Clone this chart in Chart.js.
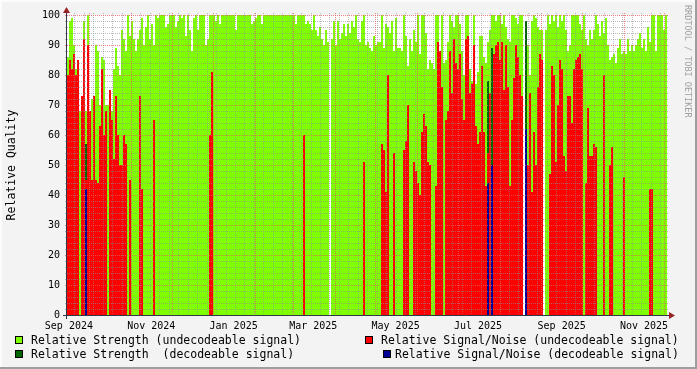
<!DOCTYPE html>
<html>
<head>
<meta charset="utf-8">
<script src="https://cdn.jsdelivr.net/npm/chart.js@4.4.1/dist/chart.umd.min.js"></script>
<style>
  html, body { margin: 0; padding: 0; background: #f3f3f3; }
  canvas { display: block; }
</style>
</head>
<body>
<canvas id="qualityChart" width="697" height="369"></canvas>
<script>
// one bar for every 2 px of the plot, 300 bars from mid Sep 2024 to early Dec 2025
const DAY = 86400000;
const binDays = 2 / 1.35;
const startTime = Date.UTC(2024, 8, 14, 14);
const binCount = 300;
const endTime = startTime + binCount * binDays * DAY;

// Relative Strength (undecodeable signal)
const strengthBad = [
  86, 98, 99, 90, 82, 82, 68, 70, 98, 68, 100, 68, 72, 68, 90, 88, 70, 86, 85, 70,
  70, 70, 68, 82, 89, 83, 80, 95, 92, 88, 100, 93, 98, 92, 88, 92, 95, 99, 90, 96,
  100, 92, 97, 90, 100, 99, 100, 100, 100, 96, 97, 100, 100, 100, 96, 98, 100, 99, 100, 93,
  100, 95, 88, 99, 100, 95, 100, 100, 100, 90, 92, 100, 100, 100, 98, 100, 97, 100, 100, 100,
  100, 100, 100, 100, 95, 100, 100, 100, 100, 100, 100, 100, 97, 98, 99, 100, 100, 97, 100, 100,
  100, 100, 100, 100, 100, 100, 100, 100, 100, 100, 100, 100, 100, 100, 97, 100, 100, 100, 100, 97,
  98, 97, 95, 100, 95, 93, 96, 92, 90, 95, 91, 0, 92, 98, 90, 98, 92, 94, 97, 93,
  97, 94, 98, 96, 100, 92, 91, 98, 100, 90, 91, 89, 88, 93, 90, 91, 91, 100, 89, 97,
  96, 94, 98, 88, 99, 89, 89, 88, 100, 93, 83, 92, 88, 95, 91, 100, 87, 100, 100, 94,
  82, 85, 84, 82, 100, 100, 83, 100, 84, 85, 91, 100, 98, 96, 100, 100, 97, 88, 80, 100,
  100, 82, 78, 100, 77, 81, 93, 93, 86, 84, 91, 95, 100, 100, 98, 100, 100, 97, 100, 96,
  92, 91, 100, 100, 99, 97, 100, 100, 0, 0, 90, 80, 98, 100, 99, 96, 95, 95, 0, 95,
  100, 97, 100, 98, 100, 96, 100, 98, 100, 95, 88, 90, 100, 100, 100, 100, 97, 95, 100, 92,
  90, 95, 92, 95, 100, 97, 93, 98, 94, 99, 90, 85, 86, 87, 84, 89, 92, 87, 88, 87,
  92, 88, 90, 88, 90, 92, 94, 89, 92, 88, 96, 91, 100, 100, 88, 100, 100, 100, 95, 100
];

// Relative Signal/Noise (undecodeable signal)
const snrBad = [
  80, 85, 82, 87, 80, 85, 0, 73, 92, 45, 90, 68, 45, 73, 45, 44, 63, 82, 60, 68,
  0, 75, 65, 52, 73, 60, 50, 50, 60, 57, 0, 45, 0, 0, 0, 0, 73, 42, 0, 0,
  0, 0, 0, 65, 0, 0, 0, 0, 0, 0, 0, 0, 0, 0, 0, 0, 0, 0, 0, 0,
  0, 0, 0, 0, 0, 0, 0, 0, 0, 0, 0, 60, 81, 0, 0, 0, 0, 0, 0, 0,
  0, 0, 0, 0, 0, 0, 0, 0, 0, 0, 0, 0, 0, 0, 0, 0, 0, 0, 0, 0,
  0, 0, 0, 0, 0, 0, 0, 0, 0, 0, 0, 0, 0, 0, 0, 0, 0, 0, 60, 0,
  0, 0, 0, 0, 0, 0, 0, 0, 0, 0, 0, 0, 0, 0, 0, 0, 0, 0, 0, 0,
  0, 0, 0, 0, 0, 0, 0, 0, 51, 0, 0, 0, 0, 0, 0, 0, 0, 57, 55, 41,
  80, 0, 0, 54, 0, 0, 0, 0, 55, 58, 70, 0, 0, 51, 48, 44, 40, 61, 67, 63,
  51, 50, 0, 0, 43, 91, 88, 76, 0, 65, 68, 88, 74, 92, 84, 82, 87, 72, 65, 92,
  93, 74, 77, 90, 63, 57, 61, 83, 61, 43, 54, 74, 50, 87, 90, 91, 85, 91, 75, 90,
  76, 43, 65, 79, 90, 86, 80, 73, 0, 0, 50, 74, 41, 61, 50, 76, 87, 85, 0, 0,
  0, 47, 83, 80, 51, 70, 85, 82, 53, 48, 73, 73, 64, 82, 85, 86, 87, 82, 0, 44,
  69, 53, 53, 57, 56, 0, 0, 0, 80, 0, 0, 50, 56, 0, 0, 0, 0, 0, 46, 0,
  0, 0, 0, 0, 0, 0, 0, 0, 0, 0, 0, 42, 42, 0, 0, 0, 0, 0, 0, 0
];

// decodeable signal only shows up in a few bars
const goodBins = [9, 210, 212, 229];
const strengthGood = [57, 78, 89, 98];
const snrGood = [42, 44, 50, 62];

const xLabels = ['Sep 2024', 'Nov 2024', 'Jan 2025', 'Mar 2025', 'May 2025', 'Jul 2025', 'Sep 2025', 'Nov 2025'];
const monthNames = ['Jan', 'Feb', 'Mar', 'Apr', 'May', 'Jun', 'Jul', 'Aug', 'Sep', 'Oct', 'Nov', 'Dec'];

// rrdtool centres the month label in the middle of the month
const labelTime = lbl => {
  const [m, y] = lbl.split(' ');
  return Date.UTC(+y, monthNames.indexOf(m), 16);
};
const xLabelTimes = xLabels.map(labelTime);

const binTime = i => startTime + (i + 0.5) * binDays * DAY;
const toPoints = arr => arr.map((v, i) => ({ x: binTime(i), y: v }));
const toSparse = vals => goodBins.map((b, k) => ({ x: binTime(b), y: vals[k] }));

const legendItems = [
  { text: 'Relative Strength (undecodeable signal)', color: '#80ff00', bx: 15, by: 336, tx: 31, ty: 341 },
  { text: 'Relative Signal/Noise (undecodeable signal)', color: '#ff0000', bx: 365, by: 336, tx: 381, ty: 341 },
  { text: 'Relative Strength  (decodeable signal)', color: '#006600', bx: 15, by: 350, tx: 31, ty: 355 },
  { text: 'Relative Signal/Noise (decodeable signal)', color: '#000099', bx: 383, by: 350, tx: 395, ty: 355 }
];

const MONO = "'DejaVu Sans Mono', monospace";
Chart.defaults.font.family = MONO;

const line = (ctx, x1, y1, x2, y2) => {
  ctx.beginPath();
  ctx.moveTo(x1, y1);
  ctx.lineTo(x2, y2);
  ctx.stroke();
};

const rrdLook = {
  id: 'rrdLook',
  beforeDraw(chart) {
    const { ctx, chartArea: a } = chart;
    ctx.save();
    ctx.fillStyle = '#f3f3f3';
    ctx.fillRect(0, 0, chart.width, chart.height);
    ctx.fillStyle = '#ffffff';
    ctx.fillRect(a.left, a.top, a.right - a.left, a.bottom - a.top);
    ctx.restore();
  },
  afterDatasetsDraw(chart) {
    const { ctx, chartArea: a } = chart;
    const xs = chart.scales.x, ys = chart.scales.y;
    ctx.save();
    ctx.lineWidth = 1;
    ctx.setLineDash([1, 1]);

    // minor grid: every 2 units and every week
    ctx.strokeStyle = 'rgba(143,143,143,0.6)';
    for (let v = 2; v < 100; v += 2) {
      if (v % 10 === 0) continue;
      const py = Math.round(ys.getPixelForValue(v)) + 0.5;
      line(ctx, a.left - 2, py, a.right + 2, py);
    }
    for (let t = Date.UTC(2024, 8, 20); t < endTime; t += 7 * DAY) {
      if (t < startTime) continue;
      const px = Math.round(xs.getPixelForValue(t)) + 0.5;
      line(ctx, px, a.top - 2, px, a.bottom + 2);
    }

    // major grid: every 10 units and every month
    ctx.strokeStyle = 'rgba(229,91,91,0.75)';
    for (let v = 10; v <= 100; v += 10) {
      const py = Math.round(ys.getPixelForValue(v)) + 0.5;
      line(ctx, a.left - 2, py, a.right + 2, py);
    }
    for (let y = 2024, m = 9; y < 2026; m++) {
      if (m > 11) { m = 0; y++; }
      const t = Date.UTC(y, m, 1);
      if (t > endTime) break;
      const px = Math.round(xs.getPixelForValue(t)) + 0.5;
      line(ctx, px, a.top - 2, px, a.bottom + 2);
    }

    // axes
    ctx.setLineDash([]);
    ctx.strokeStyle = '#303848';
    line(ctx, a.left - 4, a.bottom + 0.5, a.right + 4, a.bottom + 0.5);
    line(ctx, a.left - 0.5, a.bottom + 4, a.left - 0.5, a.top - 4);

    // arrows
    ctx.fillStyle = '#992222';
    ctx.beginPath();
    ctx.moveTo(a.right + 2, a.bottom - 3);
    ctx.lineTo(a.right + 2, a.bottom + 4);
    ctx.lineTo(a.right + 8, a.bottom + 0.5);
    ctx.closePath();
    ctx.fill();
    ctx.beginPath();
    ctx.moveTo(a.left - 4, a.top - 2);
    ctx.lineTo(a.left + 3, a.top - 2);
    ctx.lineTo(a.left - 0.5, a.top - 8);
    ctx.closePath();
    ctx.fill();
    ctx.restore();
  },
  afterDraw(chart) {
    const { ctx } = chart;
    ctx.save();

    // legend
    ctx.font = '11.5px ' + MONO;
    ctx.textBaseline = 'middle';
    ctx.textAlign = 'left';
    legendItems.forEach(it => {
      ctx.fillStyle = it.color;
      ctx.fillRect(it.bx, it.by, 8, 8);
      ctx.strokeStyle = '#000';
      ctx.lineWidth = 1;
      ctx.strokeRect(it.bx + 0.5, it.by + 0.5, 7, 7);
      ctx.fillStyle = '#000';
      ctx.fillText(it.text, it.tx, it.ty);
    });

    // vertical axis title
    ctx.save();
    ctx.translate(12, 165);
    ctx.rotate(-Math.PI / 2);
    ctx.textAlign = 'center';
    ctx.fillText('Relative Quality', 0, 0);
    ctx.restore();

    // rrdtool watermark
    ctx.save();
    ctx.translate(685, 5);
    ctx.rotate(Math.PI / 2);
    ctx.font = '8.5px ' + MONO;
    ctx.fillStyle = '#a0a0a0';
    ctx.textAlign = 'left';
    ctx.textBaseline = 'alphabetic';
    ctx.fillText('RRDTOOL / TOBI OETIKER', 0, 0);
    ctx.restore();

    // shaded frame
    ctx.fillStyle = '#fcfcfc';
    ctx.fillRect(0, 0, chart.width, 2);
    ctx.fillRect(0, 0, 2, chart.height);
    ctx.fillStyle = '#9e9e9e';
    ctx.fillRect(0, chart.height - 2, chart.width, 2);
    ctx.fillRect(chart.width - 2, 0, 2, chart.height);
    ctx.restore();
  }
};

const ctx = document.getElementById('qualityChart').getContext('2d');
const qualityChart = new Chart(ctx, {
  type: 'bar',
  data: {
    datasets: [
      { label: 'Relative Signal/Noise (decodeable signal)', data: toSparse(snrGood), backgroundColor: '#000099', order: 0 },
      { label: 'Relative Signal/Noise (undecodeable signal)', data: toPoints(snrBad), backgroundColor: '#ff0000', order: 1 },
      { label: 'Relative Strength  (decodeable signal)', data: toSparse(strengthGood), backgroundColor: '#006600', order: 2 },
      { label: 'Relative Strength (undecodeable signal)', data: toPoints(strengthBad), backgroundColor: '#80ff00', order: 3 }
    ]
  },
  options: {
    responsive: false,
    animation: false,
    layout: { padding: { top: 15, right: 30, left: 0, bottom: 0 } },
    datasets: {
      bar: { grouped: false, barPercentage: 1, categoryPercentage: 1, borderWidth: 0, inflateAmount: 0 }
    },
    plugins: {
      legend: { display: false },
      tooltip: { enabled: false }
    },
    scales: {
      x: {
        type: 'linear',
        offset: false,
        min: startTime,
        max: endTime,
        grid: { display: false, drawTicks: false, offset: false },
        border: { display: false },
        ticks: {
          autoSkip: false,
          maxRotation: 0,
          padding: 5,
          color: '#000',
          font: { size: 10 },
          callback: (v, i) => xLabels[i]
        },
        afterBuildTicks: s => { s.ticks = xLabelTimes.map(t => ({ value: t })); },
        afterFit: s => { s.height = 54; s.paddingLeft = 0; s.paddingRight = 0; }
      },
      y: {
        min: 0,
        max: 100,
        grid: { display: false, drawTicks: false },
        border: { display: false },
        ticks: { stepSize: 10, padding: 7, color: '#000', font: { size: 10 } },
        afterFit: s => { s.width = 67; s.paddingTop = 0; s.paddingBottom = 0; }
      }
    }
  },
  plugins: [rrdLook]
});
</script>
</body>
</html>
